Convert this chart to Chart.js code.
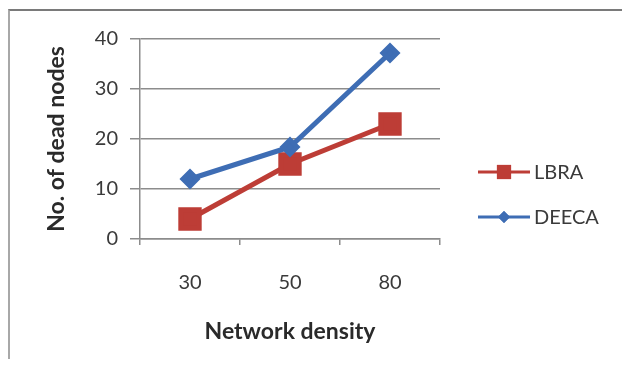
<!DOCTYPE html>
<html>
<head>
<meta charset="utf-8">
<script src="https://cdn.jsdelivr.net/npm/chart.js@4/dist/chart.umd.min.js"></script>
<style>
  html, body { margin: 0; padding: 0; background: #fff; }
  #wrap { position: relative; width: 622px; height: 369px; overflow: hidden; }
  /* Excel-style chart frame */
  #frame {
    position: absolute; left: 8px; top: 9px; width: 640px; height: 348px;
    border-top: 2px solid #7a7a7a; border-left: 2px solid #a8a8a8;
    background: #fff;
  }
  canvas { position: absolute; left: 0; top: 0; }
</style>
</head>
<body>
<div id="wrap">
  <div id="frame"></div>
  <canvas id="chart" width="622" height="369"></canvas>
</div>
<script>
/* -------------------------------------------------
   Data
   ------------------------------------------------- */
const densities = ['30', '50', '80'];
const lbraDead = [4, 15, 23];
const deecaDead = [12, 18.4, 37.2];
const yTicks = [0, 10, 20, 30, 40];

const RED = '#bd3d36';
const BLUE = '#3e6db4';
const FONT = 'Lato, "Open Sans", sans-serif';

/* -------------------------------------------------
   Legend: Excel-like line + marker samples
   ------------------------------------------------- */
const sideLegend = {
  id: 'sideLegend',
  afterDraw(chart) {
    const ctx = chart.ctx;
    const items = [chart.data.datasets[1], chart.data.datasets[0]]; // LBRA first
    const x0 = 478, x1 = 530;
    const rows = [172, 217];
    items.forEach((ds, i) => {
      const y = rows[i];
      ctx.save();
      ctx.strokeStyle = ds.borderColor;
      ctx.lineWidth = 3;
      ctx.beginPath();
      ctx.moveTo(x0, y);
      ctx.lineTo(x1, y);
      ctx.stroke();
      ctx.fillStyle = ds.pointBackgroundColor;
      Chart.helpers.drawPoint(ctx, {
        pointStyle: ds.pointStyle,
        radius: ds.pointStyle === 'rect' ? 10 : 6,
        rotation: 0
      }, (x0 + x1) / 2, y);
      ctx.fill();
      ctx.fillStyle = '#3a3a3a';
      ctx.font = '20px ' + FONT;
      ctx.textBaseline = 'middle';
      ctx.fillText(ds.label, x1 + 4, y + 1);
      ctx.restore();
    });
  }
};

/* -------------------------------------------------
   Chart
   ------------------------------------------------- */
new Chart(document.getElementById('chart'), {
  type: 'line',
  data: {
    labels: densities,
    datasets: [
      {
        label: 'DEECA',
        data: deecaDead,
        order: 0,
        borderColor: BLUE,
        backgroundColor: BLUE,
        pointBackgroundColor: BLUE,
        pointBorderColor: BLUE,
        pointStyle: 'rectRot',
        pointRadius: 7,
        borderWidth: 5,
        tension: 0
      },
      {
        label: 'LBRA',
        data: lbraDead,
        order: 1,
        borderColor: RED,
        backgroundColor: RED,
        pointBackgroundColor: RED,
        pointBorderColor: RED,
        pointStyle: 'rect',
        pointRadius: 13,
        borderWidth: 5,
        tension: 0
      }
    ]
  },
  options: {
    responsive: false,
    animation: false,
    layout: { padding: { top: 39, right: 182, bottom: 0, left: 0 } },
    plugins: {
      legend: { display: false },
      tooltip: { enabled: false }
    },
    scales: {
      x: {
        offset: true,
        grid: {
          offset: true,
          drawOnChartArea: false,
          drawTicks: true,
          tickLength: 6,
          color: '#8c8c8c',
          lineWidth: 1.5
        },
        border: { display: true, color: '#8c8c8c', width: 1.5 },
        ticks: { color: '#3a3a3a', font: { family: FONT, size: 20 }, padding: 26 },
        title: {
          display: true,
          text: 'Network density',
          color: '#2a2a2a',
          font: { family: FONT, size: 23, weight: 'bold' },
          padding: { top: 0, bottom: 24 }
        },
        afterFit(scale) { scale.height = 130; }
      },
      y: {
        min: 0,
        max: 40,
        afterBuildTicks(scale) { scale.ticks = yTicks.map(v => ({ value: v })); },
        grid: {
          color: '#8c8c8c',
          lineWidth: 1.5,
          drawTicks: true,
          tickLength: 10
        },
        border: { display: true, color: '#8c8c8c', width: 1.5 },
        ticks: { color: '#3a3a3a', font: { family: FONT, size: 20 }, padding: 12 },
        title: {
          display: true,
          text: 'No. of dead nodes',
          color: '#2a2a2a',
          font: { family: FONT, size: 23, weight: 'bold' },
          padding: { top: 43, bottom: 0 }
        },
        afterFit(scale) { scale.width = 140; }
      }
    }
  },
  plugins: [sideLegend]
});
</script>
</body>
</html>
